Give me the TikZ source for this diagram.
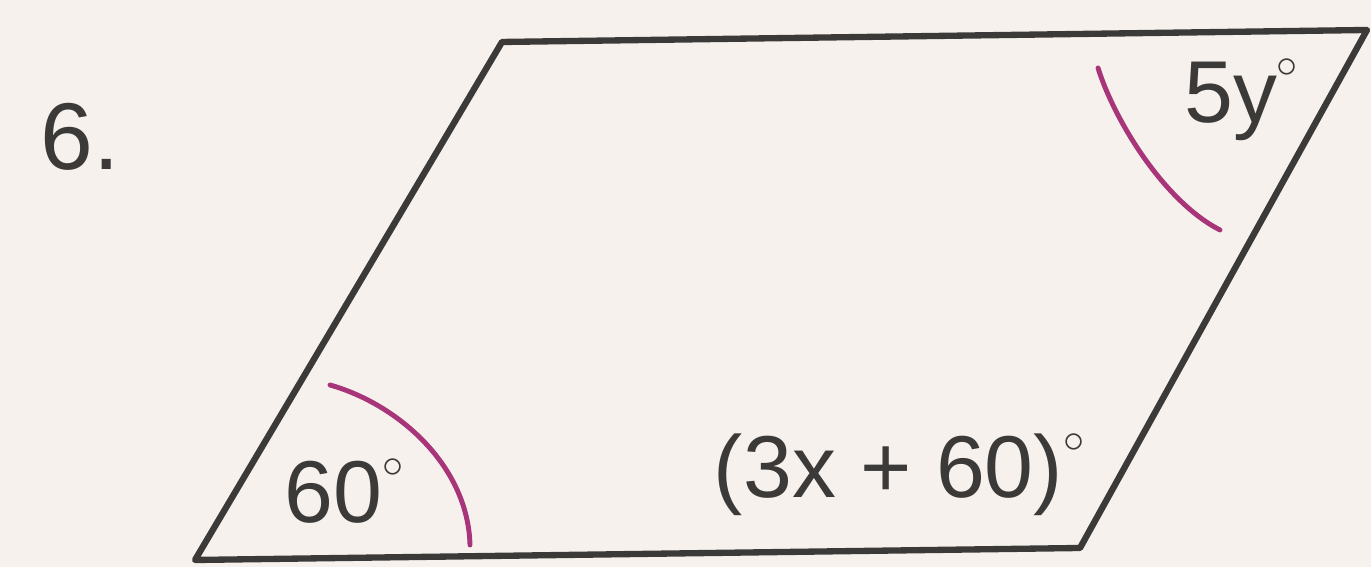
\documentclass[tikz,border=0pt]{standalone}
\usepackage{fontspec}
\setmainfont{Liberation Sans}
\usepackage{xcolor}
\usetikzlibrary{calc,positioning}
\definecolor{paper}{HTML}{F6F1EC}
\definecolor{inkgray}{HTML}{3C3A38}
\definecolor{arcpink}{HTML}{A8347A}
\newcommand{\degmark}{\raisebox{0.15em}{$^{\scriptscriptstyle\circ}$}}

\begin{document}
\begin{tikzpicture}[
    edge/.style={draw=inkgray, line width=1.8pt, line join=round},
    arcmark/.style={draw=arcpink, line width=1.4pt, line cap=round},
    lbl/.style={text=inkgray, inner sep=0pt, font=\fontsize{25}{29}\selectfont},
]
% Background / bounding box
\fill[paper] (0,0) rectangle (13.71,5.67);
\useasboundingbox (0,0) rectangle (13.71,5.67);

% Vertices
\coordinate (bl) at (1.95,0.07);
\coordinate (br) at (10.80,0.19);
\coordinate (tr) at (13.67,5.37);
\coordinate (tl) at (5.02,5.25);

% Parallelogram
\draw[edge] (bl) -- (br) -- (tr) -- (tl) -- cycle;

% Angle marks
\coordinate (a1s) at (3.30,1.82);
\coordinate (a1e) at (4.70,0.22);
\draw[arcmark] (a1s) .. controls (4.00,1.62) and (4.68,1.00) .. (a1e);
\coordinate (a2s) at (10.98,4.99);
\coordinate (a2e) at (12.20,3.37);
\draw[arcmark] (a2s) .. controls (11.15,4.45) and (11.65,3.65) .. (a2e);

% Labels
\node[lbl, font=\fontsize{27}{31}\selectfont] (num) at (0.80,4.30) {6.};
\node[lbl] (ang1) at (3.45,0.76) {60\degmark};
\node[lbl] (ang2) at (9.00,0.92) {(3x + 60)\degmark};
\node[lbl] (ang3) at (12.42,4.67) {5y\degmark};
\end{tikzpicture}
\end{document}
